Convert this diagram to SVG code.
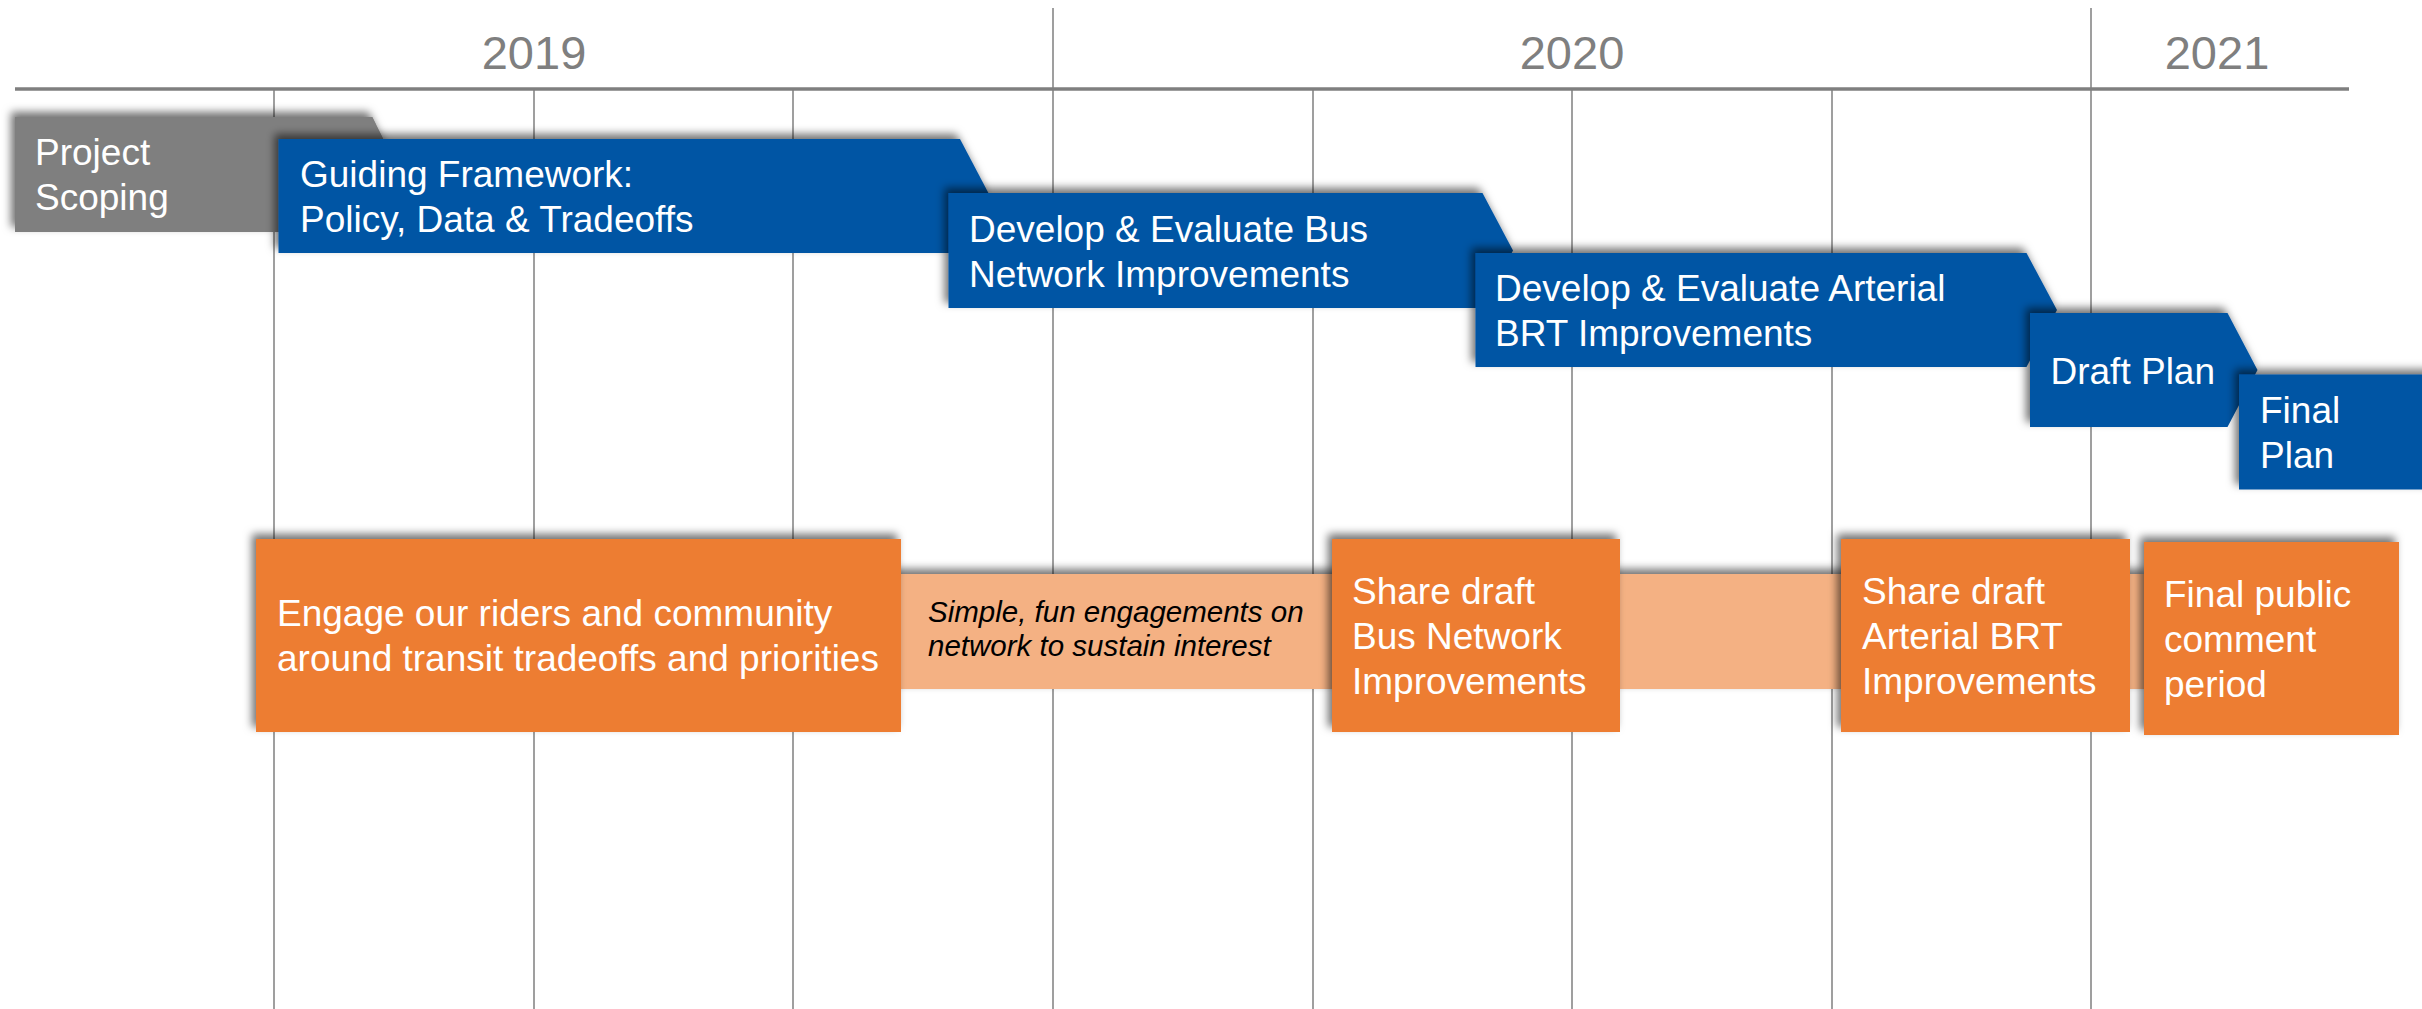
<svg xmlns="http://www.w3.org/2000/svg" width="2422" height="1009" viewBox="0 0 2422 1009">
  <defs>
    <filter id="sh" x="-10%" y="-30%" width="120%" height="160%">
      <feDropShadow dx="-4" dy="-5" stdDeviation="4" flood-color="#000" flood-opacity="0.55"/>
    </filter>
    <style>
      .grid { stroke: #7f7f7f; stroke-width: 1.5; fill: none; }
      .axis { stroke: #7f7f7f; stroke-width: 3.5; fill: none; }
      .year { font-family: "Liberation Sans", Arial, sans-serif; font-size: 47px; fill: #7f7f7f; text-anchor: middle; }
      .lbl { font-family: "Liberation Sans", Arial, sans-serif; font-size: 37px; fill: #ffffff; }
      .ital { font-family: "Liberation Sans", Arial, sans-serif; font-size: 29.5px; font-style: italic; fill: #000000; }
      .blue { fill: #0054a4; filter: url(#sh); }
      .gray { fill: #7f7f7f; filter: url(#sh); }
      .orange { fill: #ed7d31; filter: url(#sh); }
      .band { fill: #f4b183; filter: url(#sh); }
    </style>
  </defs>
  <rect width="2422" height="1009" fill="#ffffff"/>

  <g id="grid">
    <line class="grid" x1="274" y1="89" x2="274" y2="1009"/>
    <line class="grid" x1="534" y1="89" x2="534" y2="1009"/>
    <line class="grid" x1="793" y1="89" x2="793" y2="1009"/>
    <line class="grid" x1="1053" y1="8" x2="1053" y2="1009"/>
    <line class="grid" x1="1313" y1="89" x2="1313" y2="1009"/>
    <line class="grid" x1="1572" y1="89" x2="1572" y2="1009"/>
    <line class="grid" x1="1832" y1="89" x2="1832" y2="1009"/>
    <line class="grid" x1="2091" y1="8" x2="2091" y2="1009"/>
    <line class="axis" x1="15" y1="89" x2="2349" y2="89"/>
    <text class="year" x="534" y="69">2019</text>
    <text class="year" x="1572" y="69">2020</text>
    <text class="year" x="2217" y="69">2021</text>
  </g>

  <g id="project-scoping">
    <polygon class="gray" points="15,117 372.5,117 401,174.5 372.5,232 15,232"/>
    <text class="lbl" x="35" y="165">Project</text>
    <text class="lbl" x="35" y="210">Scoping</text>
  </g>
  <g id="guiding-framework">
    <polygon class="blue" points="278.5,139 960,139 990,196 960,253 278.5,253"/>
    <text class="lbl" x="300" y="187">Guiding Framework:</text>
    <text class="lbl" x="300" y="232">Policy, Data &amp; Tradeoffs</text>
  </g>
  <g id="bus-network">
    <polygon class="blue" points="948.5,193 1482.5,193 1513,250.5 1482.5,308 948.5,308"/>
    <text class="lbl" x="969" y="241.5">Develop &amp; Evaluate Bus</text>
    <text class="lbl" x="969" y="286.5">Network Improvements</text>
  </g>
  <g id="arterial-brt">
    <polygon class="blue" points="1475.5,253 2026.5,253 2057,310 2026.5,367 1475.5,367"/>
    <text class="lbl" x="1495" y="300.5">Develop &amp; Evaluate Arterial</text>
    <text class="lbl" x="1495" y="345.5">BRT Improvements</text>
  </g>
  <g id="draft-plan">
    <polygon class="blue" points="2030,313 2227.5,313 2257.5,370 2227.5,427 2030,427"/>
    <text class="lbl" x="2050.5" y="383.5">Draft Plan</text>
  </g>
  <g id="final-plan">
    <rect class="blue" x="2239" y="374.5" width="200" height="115"/>
    <text class="lbl" x="2260" y="423">Final</text>
    <text class="lbl" x="2260" y="467.5">Plan</text>
  </g>

  <g id="sustain-interest">
    <rect class="band" x="890" y="574" width="1260" height="115"/>
    <text class="ital" x="928" y="621.5">Simple, fun engagements on</text>
    <text class="ital" x="928" y="656">network to sustain interest</text>
  </g>
  <g id="engage">
    <rect class="orange" x="256" y="539" width="645" height="193"/>
    <text class="lbl" x="277" y="626">Engage our riders and community</text>
    <text class="lbl" x="277" y="671">around transit tradeoffs and priorities</text>
  </g>
  <g id="share-bus">
    <rect class="orange" x="1332" y="539" width="288" height="193"/>
    <text class="lbl" x="1352" y="604">Share draft</text>
    <text class="lbl" x="1352" y="649">Bus Network</text>
    <text class="lbl" x="1352" y="694">Improvements</text>
  </g>
  <g id="share-arterial">
    <rect class="orange" x="1841" y="539" width="289" height="193"/>
    <text class="lbl" x="1862" y="604">Share draft</text>
    <text class="lbl" x="1862" y="649">Arterial BRT</text>
    <text class="lbl" x="1862" y="694">Improvements</text>
  </g>
  <g id="final-comment">
    <rect class="orange" x="2144" y="542" width="255" height="193"/>
    <text class="lbl" x="2164" y="607">Final public</text>
    <text class="lbl" x="2164" y="652">comment</text>
    <text class="lbl" x="2164" y="697">period</text>
  </g>
</svg>
